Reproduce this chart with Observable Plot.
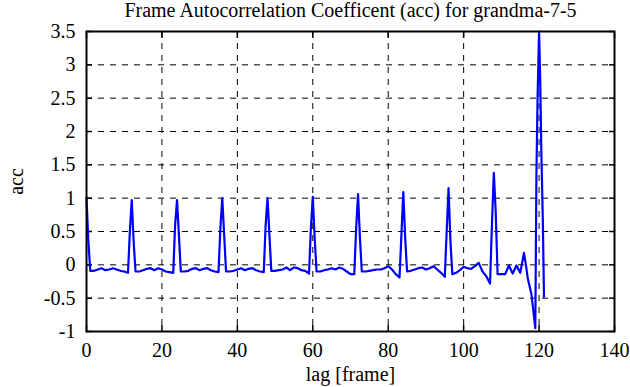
<!DOCTYPE html>
<html>
<head>
<meta charset="utf-8">
<script src="https://cdn.jsdelivr.net/npm/d3@7"></script>
<script src="https://cdn.jsdelivr.net/npm/@observablehq/plot@0.6"></script>
<style>
  body { margin: 0; background: #fff; }
  svg text { font-family: 'Liberation Serif', 'Times New Roman', serif !important; }
</style>
</head>
<body>
<div id="chart"></div>
<script>
const titleText = "Frame Autocorrelation Coefficent (acc) for grandma-7-5";
const xLabel = "lag [frame]";
const yLabel = "acc";
const xTicks = [0, 20, 40, 60, 80, 100, 120, 140];
const yTicks = [-1, -0.5, 0, 0.5, 1, 1.5, 2, 2.5, 3, 3.5];

const lag = [
  0, 0.5, 1, 2, 3, 4, 5, 6, 7, 8, 9, 10, 11, 11.5, 12, 12.5,
  13, 14, 15, 16, 17, 18, 19, 20, 21, 22, 23, 23.5, 24, 24.5,
  25, 26, 27, 28, 29, 30, 31, 32, 33, 34, 35, 35.5, 36, 36.5,
  37, 38, 39, 40, 41, 42, 43, 44, 45, 46, 47, 47.5, 48, 48.5,
  49, 50, 51, 52, 53, 54, 55, 56, 57, 58, 59, 59.5, 60, 60.5,
  61, 62, 63, 64, 65, 66, 67, 68, 69, 70, 71, 71.5, 72, 72.5,
  73, 74, 75, 76, 77, 78, 79, 80, 81, 82, 83, 83.5, 84, 84.5,
  85, 86, 87, 88, 89, 90, 91, 92, 93, 94, 95, 95.5, 96, 96.5,
  97, 98, 99, 100, 101, 102, 103, 104, 105, 106, 107, 107.5, 108, 108.5,
  109, 110, 111, 112, 113, 114, 115, 116, 116.5, 117, 118, 118.5, 119,
  119.3, 119.6, 120, 120.3, 120.6, 121, 121.3
];
const acc = [
  1.00, 0.35, -0.09, -0.09, -0.07, -0.05, -0.08, -0.07, -0.05, -0.07, -0.09, -0.10, -0.12, 0.50, 0.97, 0.35,
  -0.10, -0.10, -0.08, -0.06, -0.05, -0.08, -0.05, -0.07, -0.10, -0.11, -0.12, 0.60, 0.97, 0.45,
  -0.10, -0.10, -0.09, -0.06, -0.05, -0.08, -0.06, -0.05, -0.08, -0.10, -0.11, 0.55, 1.00, 0.45,
  -0.10, -0.10, -0.09, -0.07, -0.05, -0.08, -0.06, -0.05, -0.08, -0.10, -0.11, 0.60, 1.00, 0.45,
  -0.09, -0.09, -0.08, -0.07, -0.04, -0.08, -0.04, -0.05, -0.08, -0.09, -0.13, 0.55, 1.02, 0.40,
  -0.10, -0.10, -0.08, -0.07, -0.05, -0.07, -0.04, -0.06, -0.10, -0.14, -0.14, 0.55, 1.06, 0.40,
  -0.10, -0.10, -0.09, -0.08, -0.07, -0.07, -0.05, -0.02, -0.07, -0.14, -0.19, 0.45, 1.09, 0.40,
  -0.10, -0.09, -0.07, -0.05, -0.04, -0.07, -0.05, -0.02, -0.07, -0.12, -0.18, 0.50, 1.15, 0.35,
  -0.14, -0.12, -0.08, -0.03, -0.05, -0.06, -0.02, 0.03, -0.10, -0.17, -0.28, 0.60, 1.38, 0.80,
  -0.14, -0.14, -0.14, -0.01, -0.13, -0.01, -0.12, 0.18, 0.00, -0.20, -0.45, -0.70, -0.95,
  1.35, 2.50, 3.50, 2.80, 1.70, 0.65, -0.48
];

const data = lag.map((l, i) => ({lag: l, acc: acc[i]}));
const fmt = d => String(d);
const ff = "'Liberation Serif', 'Times New Roman', serif";

const chart = Plot.plot({
  width: 630,
  height: 387,
  marginLeft: 86,
  marginRight: 16,
  marginTop: 31,
  marginBottom: 56,
  style: {fontFamily: ff, fontSize: "20px", background: "white", color: "black"},
  x: {domain: [0, 140], ticks: xTicks},
  y: {domain: [-1, 3.5], ticks: yTicks},
  marks: [
    Plot.gridX(xTicks, {stroke: "black", strokeOpacity: 1, strokeWidth: 1, strokeDasharray: "6,6"}),
    Plot.gridY(yTicks, {stroke: "black", strokeOpacity: 1, strokeWidth: 1, strokeDasharray: "6,6"}),
    Plot.axisX(xTicks, {anchor: "bottom", tickSize: 0, tickPadding: 11, tickFormat: fmt, fontSize: 20, fontFamily: ff, label: xLabel, labelAnchor: "center", labelArrow: "none", labelOffset: 49}),
    Plot.axisY(yTicks, {anchor: "left", tickSize: 0, tickPadding: 11, tickFormat: fmt, fontSize: 20, fontFamily: ff, label: yLabel, labelAnchor: "center", labelArrow: "none", labelOffset: 78}),
    Plot.axisX(xTicks, {anchor: "bottom", tickSize: -6, text: null, label: null, strokeWidth: 1.5}),
    Plot.axisX(xTicks, {anchor: "top", tickSize: -6, text: null, label: null, strokeWidth: 1.5}),
    Plot.axisY(yTicks, {anchor: "left", tickSize: -6, text: null, label: null, strokeWidth: 1.5}),
    Plot.axisY(yTicks, {anchor: "right", tickSize: -6, text: null, label: null, strokeWidth: 1.5}),
    Plot.line(data, {x: "lag", y: "acc", stroke: "#0000ff", strokeWidth: 2.2}),
    Plot.frame({stroke: "black", strokeWidth: 2}),
    Plot.text([titleText], {frameAnchor: "top", dy: -15, lineAnchor: "bottom", fontSize: 20, fontFamily: ff})
  ]
});
document.getElementById("chart").appendChild(chart);
</script>
</body>
</html>
